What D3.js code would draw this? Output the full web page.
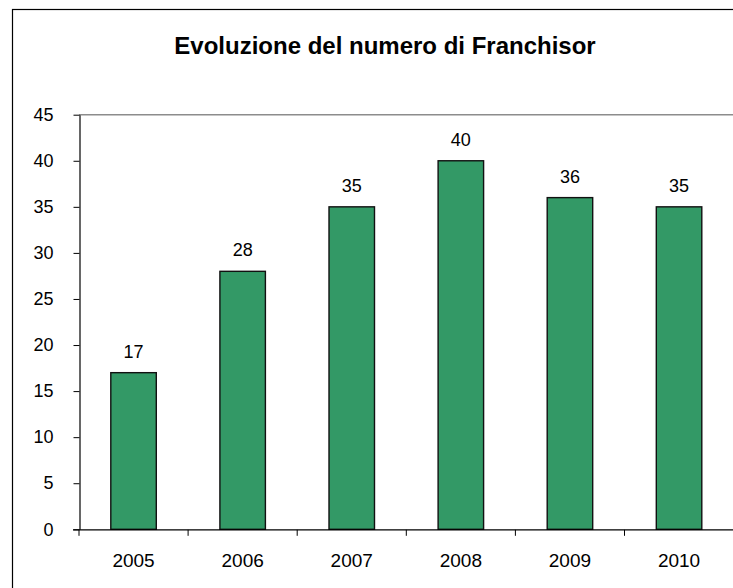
<!DOCTYPE html>
<html lang="it">
<head>
    <meta charset="UTF-8">
    <title>Evoluzione del numero di Franchisor</title>
    <script src="https://cdn.jsdelivr.net/npm/d3@7/dist/d3.min.js"></script>
    <style>
        html, body { margin: 0; padding: 0; background: #fff; }
        svg { display: block; font-family: Arial, "Liberation Sans", sans-serif; }
    </style>
</head>
<body>
<svg id="svg" width="733" height="588"></svg>
<script>
    // dati
    var anni = ["2005", "2006", "2007", "2008", "2009", "2010"];
    var franchisor = [17, 28, 35, 40, 36, 35];
    var yTicks = [0, 5, 10, 15, 20, 25, 30, 35, 40, 45];
    var titolo = "Evoluzione del numero di Franchisor";

    var svg = d3.select("#svg");

    // area del grafico (a destra esce un po' dalla foto, come nell'originale)
    var x0 = 79, step = 109.1;
    var plotTop = 114.7, plotBottom = 529.3;

    var x = d3.scaleBand()
        .domain(anni)
        .range([x0, x0 + step * anni.length])
        .paddingInner(0.583)
        .paddingOuter(0.2915);

    var y = d3.scaleLinear()
        .domain([0, 45])
        .range([plotBottom, plotTop]);

    // cornice esterna
    svg.append("rect")
        .attr("x", 12.5)
        .attr("y", 9.5)
        .attr("width", 760)
        .attr("height", 620)
        .style("fill", "none")
        .style("stroke", "#000")
        .style("stroke-width", 1.2);

    // titolo
    svg.append("text")
        .attr("x", 385)
        .attr("y", 54)
        .attr("text-anchor", "middle")
        .style("font-size", "24px")
        .style("font-weight", "bold")
        .text(titolo);

    // bordo superiore dell'area del grafico
    svg.append("line")
        .attr("x1", x0)
        .attr("x2", 760)
        .attr("y1", y(45))
        .attr("y2", y(45))
        .style("stroke", "#8c8c8c")
        .style("stroke-width", 1.6);

    // barre
    svg.append("g")
        .selectAll("rect")
        .data(franchisor)
        .enter()
        .append("rect")
        .attr("x", function (d, i) { return x(anni[i]); })
        .attr("y", function (d) { return y(d); })
        .attr("width", x.bandwidth())
        .attr("height", function (d) { return y(0) - y(d); })
        .style("fill", "#339966")
        .style("stroke", "#111")
        .style("stroke-width", 1.4);

    // etichette dei valori
    svg.append("g")
        .selectAll("text")
        .data(franchisor)
        .enter()
        .append("text")
        .attr("x", function (d, i) { return x(anni[i]) + x.bandwidth() / 2; })
        .attr("y", function (d) { return y(d) - 15; })
        .attr("text-anchor", "middle")
        .style("font-size", "18px")
        .style("fill", "#000")
        .text(function (d) { return d; });

    // asse y
    var yAxis = svg.append("g")
        .attr("transform", "translate(" + (x0 + 0.5) + ",0)")
        .call(d3.axisLeft(y).tickValues(yTicks).tickSize(6).tickPadding(20).tickSizeOuter(0));
    yAxis.select(".domain").style("stroke", "#000").style("stroke-width", 1.2);
    yAxis.selectAll(".tick line").style("stroke", "#000");
    yAxis.selectAll(".tick text")
        .style("font-size", "18px")
        .style("font-family", "Arial, 'Liberation Sans', sans-serif")
        .style("fill", "#000");

    // asse x con le tacche tra le categorie
    var xAxis = svg.append("g")
        .attr("transform", "translate(0," + (plotBottom + 0.5) + ")");
    xAxis.append("line")
        .attr("x1", x0 - 6)
        .attr("x2", 760)
        .style("stroke", "#000")
        .style("stroke-width", 1.2);
    xAxis.selectAll("line.tacca")
        .data(anni)
        .enter()
        .append("line")
        .attr("class", "tacca")
        .attr("x1", function (d) { return x(d) - x.step() * x.paddingInner() / 2; })
        .attr("x2", function (d) { return x(d) - x.step() * x.paddingInner() / 2; })
        .attr("y1", 0)
        .attr("y2", 6)
        .style("stroke", "#000");
    xAxis.selectAll("text")
        .data(anni)
        .enter()
        .append("text")
        .attr("x", function (d) { return x(d) + x.bandwidth() / 2; })
        .attr("y", 37)
        .attr("text-anchor", "middle")
        .style("font-size", "19px")
        .style("fill", "#000")
        .text(function (d) { return d; });
</script>
</body>
</html>
